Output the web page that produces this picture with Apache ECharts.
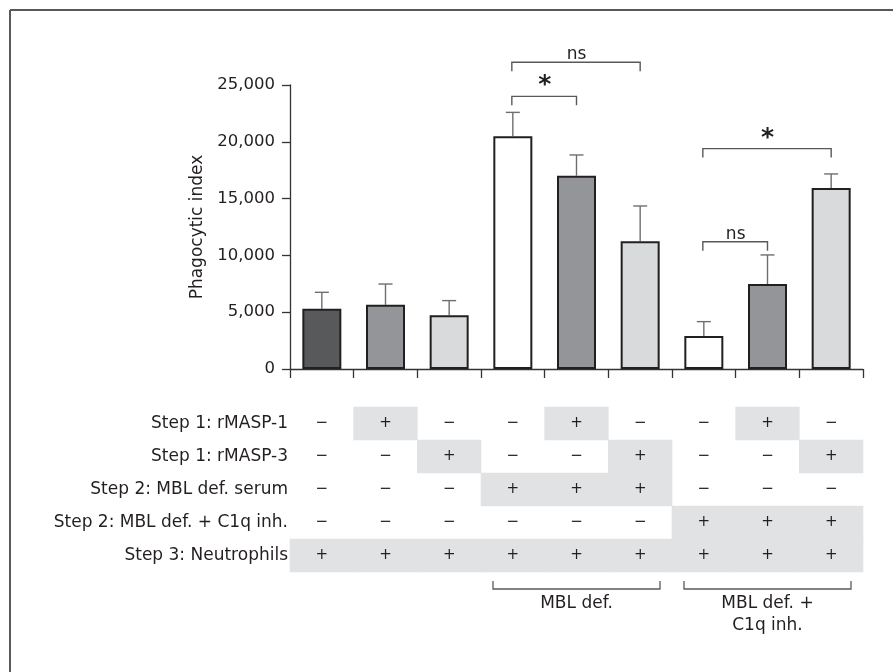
<!DOCTYPE html>
<html>
<head>
<meta charset="utf-8">
<script src="https://cdn.jsdelivr.net/npm/echarts@6/dist/echarts.min.js"></script>
<style>html,body{margin:0;padding:0;background:#fff}#c{width:893px;height:672px}</style>
</head>
<body>
<div id="c"></div>
<script>
// ---- data ----
var categories = ['1', '2', '3', '4', '5', '6', '7', '8', '9'];
var means = [5300, 5650, 4730, 20480, 17020, 11240, 2900, 7480, 15930];
var sem = [1450, 1830, 1290, 2110, 1820, 3110, 1270, 2560, 1240];
var barColors = ['#58595b', '#939598', '#d9dadb', '#ffffff', '#939598', '#d9dadb', '#ffffff', '#939598', '#d9dadb'];
var yTicks = [0, 5000, 10000, 15000, 20000, 25000];
// significance brackets: [fromIndex, toIndex, level, label]
var sigFrom = [3, 3, 6, 6];
var sigTo = [5, 4, 8, 7];
var sigLevel = [27000, 24000, 19400, 11200];
var sigLabel = ['ns', '*', '*', 'ns'];
// table
var rowLabels = ['Step 1: rMASP-1', 'Step 1: rMASP-3', 'Step 2: MBL def. serum', 'Step 2: MBL def. + C1q inh.', 'Step 3: Neutrophils'];
var rowMASP1 = ['−', '+', '−', '−', '+', '−', '−', '+', '−'];
var rowMASP3 = ['−', '−', '+', '−', '−', '+', '−', '−', '+'];
var rowMBL = ['−', '−', '−', '+', '+', '+', '−', '−', '−'];
var rowMBLC1q = ['−', '−', '−', '−', '−', '−', '+', '+', '+'];
var rowNeut = ['+', '+', '+', '+', '+', '+', '+', '+', '+'];
// group brackets under table
var groupFrom = [3, 6];
var groupTo = [5, 8];
var groupText = ['MBL def.', 'MBL def. +\nC1q inh.'];

var FONT = 'DejaVu Sans';
var INK = '#231f20';

var tableRows = [rowMASP1, rowMASP3, rowMBL, rowMBLC1q, rowNeut];
var cellData = [];
tableRows.forEach(function (r, ri) { r.forEach(function (s, ci) { cellData.push([ci, ri, s]); }); });
var errData = means.map(function (m, i) { return [i, m, m + sem[i]]; });
var sigData = sigFrom.map(function (f, i) { return [f, sigTo[i], sigLevel[i], sigLabel[i]]; });
var groupData = groupFrom.map(function (f, i) { return [f, groupTo[i], groupText[i]]; });

var chart = echarts.init(document.getElementById('c'));
chart.setOption({
  animation: false,
  backgroundColor: '#fff',
  graphic: [
    { type: 'line', shape: { x1: 10, y1: 10, x2: 893, y2: 10 }, style: { stroke: '#58595b', lineWidth: 2 } },
    { type: 'line', shape: { x1: 10, y1: 10, x2: 10, y2: 672 }, style: { stroke: '#58595b', lineWidth: 2 } }
  ],
  grid: [
    { left: 290, top: 85, width: 573, height: 284 },
    { left: 290, top: 407, width: 573, height: 165 }
  ],
  xAxis: [
    {
      type: 'category', data: categories, gridIndex: 0,
      axisLine: { lineStyle: { color: '#333', width: 1.3 } },
      axisTick: { show: true, length: 9, lineStyle: { color: '#333', width: 1.3 } },
      axisLabel: { show: false }
    },
    {
      type: 'category', data: categories, gridIndex: 1,
      axisLine: { show: false }, axisTick: { show: false }, axisLabel: { show: false }
    }
  ],
  yAxis: [
    {
      type: 'value', gridIndex: 0, min: 0, max: 25000, interval: 5000,
      name: 'Phagocytic index', nameLocation: 'middle', nameGap: 78,
      nameTextStyle: { fontFamily: FONT, fontSize: 17, color: INK },
      axisLine: { show: true, lineStyle: { color: '#333', width: 1.3 } },
      axisTick: { show: true, length: 8, lineStyle: { color: '#333', width: 1.3 } },
      splitLine: { show: false },
      axisLabel: {
        fontFamily: FONT, fontSize: 16.5, color: INK, margin: 15,
        formatter: function (v) { return yTicks.indexOf(v) >= 0 ? v.toLocaleString('en-US') : ''; }
      }
    },
    {
      type: 'category', gridIndex: 1, data: rowLabels, inverse: true,
      axisLine: { show: false }, axisTick: { show: false },
      axisLabel: { fontFamily: FONT, fontSize: 17, color: INK, margin: 2 }
    }
  ],
  series: [
    {
      type: 'bar', xAxisIndex: 0, yAxisIndex: 0, barWidth: 39,
      data: means.map(function (m, i) {
        return { value: m, itemStyle: { color: barColors[i], borderColor: INK, borderWidth: 2 } };
      }),
      z: 2
    },
    {
      type: 'custom', xAxisIndex: 0, yAxisIndex: 0, clip: false, z: 1,
      data: errData,
      renderItem: function (params, api) {
        var x = api.value(0);
        var p0 = api.coord([x, api.value(1)]);
        var p1 = api.coord([x, api.value(2)]);
        var st = { stroke: '#6d6e71', lineWidth: 1.4 };
        return {
          type: 'group', children: [
            { type: 'line', shape: { x1: p0[0], y1: p0[1], x2: p1[0], y2: p1[1] }, style: st },
            { type: 'line', shape: { x1: p1[0] - 7, y1: p1[1], x2: p1[0] + 7, y2: p1[1] }, style: st }
          ]
        };
      }
    },
    {
      type: 'custom', xAxisIndex: 0, yAxisIndex: 0, clip: false, z: 3,
      data: sigData,
      renderItem: function (params, api) {
        var a = api.coord([api.value(0), api.value(2)]);
        var b = api.coord([api.value(1), api.value(2)]);
        var lbl = sigLabel[params.dataIndex];
        var st = { stroke: '#58595b', lineWidth: 1.4, fill: null };
        var isStar = lbl === '*';
        return {
          type: 'group', children: [
            { type: 'polyline', shape: { points: [[a[0] - 1, a[1] + 9], [a[0] - 1, a[1]], [b[0], b[1]], [b[0], b[1] + 9]] }, style: st },
            {
              type: 'text',
              style: {
                text: lbl, x: (a[0] + b[0]) / 2, y: a[1] + (isStar ? 2 : 1),
                align: 'center', verticalAlign: 'bottom',
                font: (isStar ? 'bold 25px ' : '17px ') + FONT, fill: INK
              }
            }
          ]
        };
      }
    },
    {
      type: 'custom', xAxisIndex: 1, yAxisIndex: 1, clip: false,
      data: cellData,
      renderItem: function (params, api) {
        var c = api.coord([api.value(0), api.value(1)]);
        var sz = api.size([1, 1]);
        var sym = cellData[params.dataIndex][2];
        var ch = [];
        if (sym === '+') {
          ch.push({ type: 'rect', shape: { x: c[0] - sz[0] / 2 - 0.3, y: c[1] - sz[1] / 2 - 0.3, width: sz[0] + 0.6, height: sz[1] + 0.6 }, style: { fill: '#e1e2e3' }, z2: 0 });
        }
        ch.push({ type: 'text', z2: 1, style: { text: sym, x: c[0], y: c[1], align: 'center', verticalAlign: 'middle', font: '15px ' + FONT, fill: INK } });
        return { type: 'group', children: ch };
      }
    },
    {
      type: 'custom', xAxisIndex: 1, yAxisIndex: 1, clip: false,
      data: groupData,
      renderItem: function (params, api) {
        var sz = api.size([1, 1]);
        var a = api.coord([api.value(0), 4]);
        var b = api.coord([api.value(1), 4]);
        var y = a[1] + sz[1] / 2 + 17;
        var x1 = a[0] - sz[0] / 2 + 12, x2 = b[0] + sz[0] / 2 - 12;
        return {
          type: 'group', children: [
            { type: 'polyline', shape: { points: [[x1, y - 8], [x1, y], [x2, y], [x2, y - 8]] }, style: { stroke: '#58595b', lineWidth: 1.3, fill: null } },
            { type: 'text', style: { text: groupText[params.dataIndex], x: (x1 + x2) / 2, y: y + 4, align: 'center', verticalAlign: 'top', font: '17px ' + FONT, fill: INK, lineHeight: 22 } }
          ]
        };
      }
    }
  ]
});
</script>
</body>
</html>
